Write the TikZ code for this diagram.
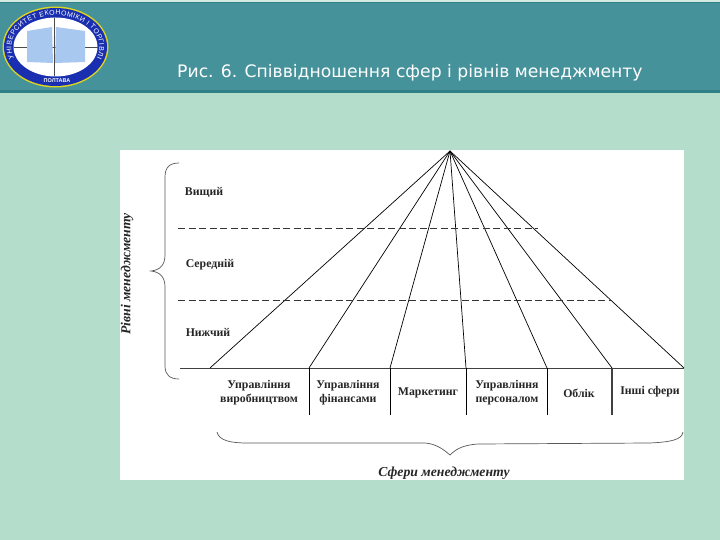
\documentclass[tikz,border=0pt]{standalone}
\usepackage{fontspec}
\setmainfont{Liberation Serif}
\newfontfamily\titlefont{DejaVu Sans}
\newfontfamily\logofont{Liberation Sans}
\usetikzlibrary{decorations.text}
\definecolor{teal1}{HTML}{46929A}
\definecolor{teal2}{HTML}{2F7F86}
\definecolor{pagebg}{HTML}{B5DDCB}
\definecolor{ringblue}{HTML}{1A2FB0}
\definecolor{bookblue}{HTML}{A9C8F0}
\tikzset{
  x=1pt,y=-1pt,
  main/.style={draw=black,line width=0.7pt},
  grayline/.style={draw=black!75,line width=0.9pt},
  dashline/.style={draw=black!80,line width=0.7pt,dash pattern=on 7pt off 3.5pt},
  bracket/.style={draw=black!65,line width=0.7pt},
  lvl/.style={font=\fontsize{11.8}{14}\selectfont\bfseries,text=black!85,inner sep=0pt},
  sph/.style={font=\fontsize{11.8}{14}\selectfont\bfseries,text=black!85,align=center,inner sep=0pt},
  axislabel/.style={font=\fontsize{13.7}{16}\selectfont\itshape\bfseries,text=black!85,inner sep=0pt},
  titletext/.style={font=\titlefont\fontsize{17.2}{20}\selectfont,text=white,anchor=base west,inner sep=0pt},
}
\begin{document}
\begin{tikzpicture}
\useasboundingbox (0,0) rectangle (720,540);
% background
\fill[pagebg] (0,0) rectangle (720,540);
\fill[teal1] (0,0) rectangle (720,92);
\fill[teal2] (0,90) rectangle (720,93);
\fill[pagebg!60!white] (0,0) rectangle (720,2);
\fill[teal2] (0,2) rectangle (720,3);
% logo
\fill[yellow!85!black] (55.5,47) ellipse [x radius=53,y radius=40.5];
\fill[ringblue] (55.5,47) ellipse [x radius=51.5,y radius=39];
\fill[white] (55.5,47) ellipse [x radius=42,y radius=29.5];
\draw[black!70,line width=0.4pt] (14,47) -- (98,47) (54,18) -- (54,76);
\fill[bookblue] (27,31) -- (52,27) -- (53,63) -- (27,62) -- cycle;
\fill[bookblue] (56,27) -- (85,31) -- (85,62) -- (55,63) -- cycle;
\path[postaction={decorate,decoration={text along path,text align={fit to path},
  text={|\logofont\fontsize{7}{7}\selectfont\color{white}|УНІВЕРСИТЕТ ЕКОНОМІКИ І ТОРГІВЛІ}}}]
  (14,58) arc [start angle=160,end angle=380,x radius=44,y radius=32];
\node[font=\logofont\fontsize{5.5}{6}\selectfont\bfseries,text=white,fill=ringblue,inner sep=0.5pt] (logoCity) at (57,81) {ПОЛТАВА};
% title
\node[titletext] (title) at (177,78) {Рис. 6. Співвідношення сфер і рівнів менеджменту};
% panel
\fill[white] (120,150) rectangle (684,480);
% coordinates
\coordinate (apex) at (450,151);
\coordinate (b0) at (210,368);
\coordinate (b1) at (309,368);
\coordinate (b2) at (390,368);
\coordinate (b3) at (466,368);
\coordinate (b4) at (547,368);
\coordinate (b5) at (612,368);
\coordinate (b6) at (684,368);
\coordinate (t1) at (309,415);
\coordinate (t2) at (390,415);
\coordinate (t3) at (466,415);
\coordinate (t4) at (547,415);
\coordinate (t5) at (612,415);
\coordinate (baseL) at (180,368);
\coordinate (d1L) at (178,228);
\coordinate (d1R) at (538,228);
\coordinate (d2L) at (178,300);
\coordinate (d2R) at (612,300);
% rays
\foreach \e in {b0,b1,b2,b3,b4,b5,b6} \draw[main] (apex) -- (\e);
% baseline and ticks
\draw[grayline] (baseL) -- (b6);
\foreach \a/\b in {b1/t1,b2/t2,b3/t3,b4/t4} \draw[main] (\a) -- (\b);
\draw[grayline,line width=1.1pt] (b5) -- (t5);
% dashed levels
\draw[dashline] (d1L) -- (d1R);
\draw[dashline] (d2L) -- (d2R);
% left brace
\draw[bracket] (179,163) .. controls (170,163) and (165,167) .. (165,177)
  -- (165,255) .. controls (165,265) and (160,270) .. (151,271)
  .. controls (160,272) and (165,277) .. (165,287)
  -- (165,366) .. controls (165,375) and (170,379) .. (179,379);
% bottom brace
\draw[bracket] (217,432) .. controls (219,441) and (232,443) .. (247,443)
  -- (425,443) .. controls (437,444) and (444,450) .. (450,455)
  .. controls (455,450) and (462,445) .. (478,444)
  -- (650,443) .. controls (670,442) and (682,440) .. (683,432);
% level labels
\node[lvl] (lv1) at (204,192) {Вищий};
\node[lvl] (lv2) at (210,265) {Середній};
\node[lvl] (lv3) at (208,332) {Нижчий};
% sphere labels
\node[sph] (s1) at (259,393) {Управління\\виробництвом};
\node[sph] (s2) at (348,393) {Управління\\фінансами};
\node[sph] (s3) at (428,393) {Маркетинг};
\node[sph] (s4) at (507,393) {Управління\\персоналом};
\node[sph] (s5) at (579,393) {Облік};
\node[sph] (s6) at (650,392) {Інші сфери};
% axis labels
\node[axislabel,rotate=90] (ax1) at (127,274) {Рівні менеджменту};
\node[axislabel] (ax2) at (444,473) {Сфери менеджменту};
\end{tikzpicture}
\end{document}
